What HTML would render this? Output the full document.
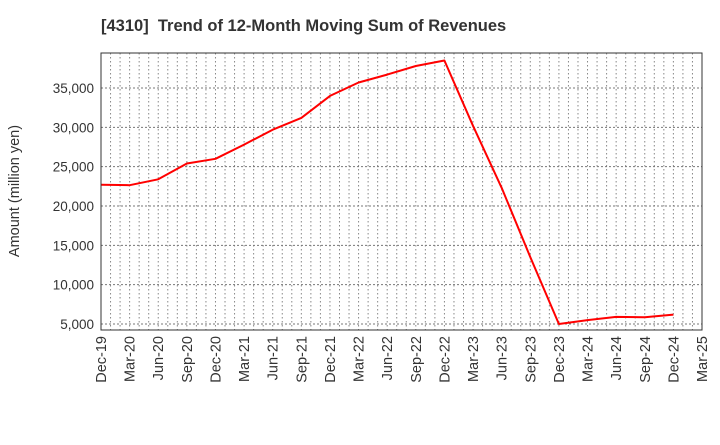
<!DOCTYPE html>
<html><head><meta charset="utf-8"><style>
body{margin:0;background:#fff;}
svg text{font-family:"Liberation Sans",sans-serif;fill:#333;}
</style></head><body>
<svg id="chart" width="720" height="440" xmlns="http://www.w3.org/2000/svg">
<text x="101" y="31" font-size="16.5" font-weight="bold" style="fill:#333" xml:space="preserve">[4310]  Trend of 12-Month Moving Sum of Revenues</text>
<text transform="translate(19,191) rotate(-90)" text-anchor="middle" font-size="14.5">Amount (million yen)</text>
<g id="grid"></g><g id="ticks"></g><g id="series"></g>
<rect x="101" y="53" width="601" height="277" fill="none" stroke="#333" stroke-width="1"/>
</svg>
<script>
const categories=["Dec-19","Mar-20","Jun-20","Sep-20","Dec-20","Mar-21","Jun-21","Sep-21","Dec-21","Mar-22","Jun-22","Sep-22","Dec-22","Mar-23","Jun-23","Sep-23","Dec-23","Mar-24","Jun-24","Sep-24","Dec-24","Mar-25"];
const revenues=[22700,22650,23400,25400,26000,27800,29700,31200,34000,35700,36700,37800,38500,30200,22300,13500,5000,5500,5900,5850,6200];
const yTicks=[5000,10000,15000,20000,25000,30000,35000];
const L=101,R=702,T=53,B=330,yMin=4237,yMax=39450;
const NS="http://www.w3.org/2000/svg";
const qw=(R-L)/(categories.length-1);
function xPos(i){return L+i*qw;}
function yPos(v){return B-(v-yMin)/(yMax-yMin)*(B-T);}
function mk(tag,attrs,parent){const e=document.createElementNS(NS,tag);for(const k in attrs)e.setAttribute(k,attrs[k]);document.getElementById(parent).appendChild(e);return e;}
for(let m=1;m<(categories.length-1)*3;m++){
 const x=L+m*qw/3;
 const l=mk('line',{x1:x,x2:x,y1:T,y2:B,stroke:'#888','stroke-dasharray':'1.5,2.5','stroke-width':1},'grid');
 
 
}
yTicks.forEach(v=>{
 const y=yPos(v);
 const l=mk('line',{x1:L,x2:R,y1:y,y2:y,stroke:'#777','stroke-dasharray':'2,2','stroke-width':1},'grid');
 
 
 const t=mk('text',{x:L-7,y:y+5,'text-anchor':'end','font-size':13.5},'ticks');
 t.textContent=v.toLocaleString('en-US');
 
 
});
categories.forEach((c,i)=>{
 const x=xPos(i);
 const t=mk('text',{transform:`translate(${x+5},${B+6}) rotate(-90)`,'text-anchor':'end','font-size':14.5},'ticks');
 t.textContent=c;
 
 
});
const pts=revenues.map((v,i)=>xPos(i).toFixed(1)+','+yPos(v).toFixed(1)).join(' ');
const pl=mk('polyline',{points:pts,fill:'none',stroke:'#ff0000','stroke-width':2,'stroke-linejoin':'round'},'series');


</script>
</body></html>
